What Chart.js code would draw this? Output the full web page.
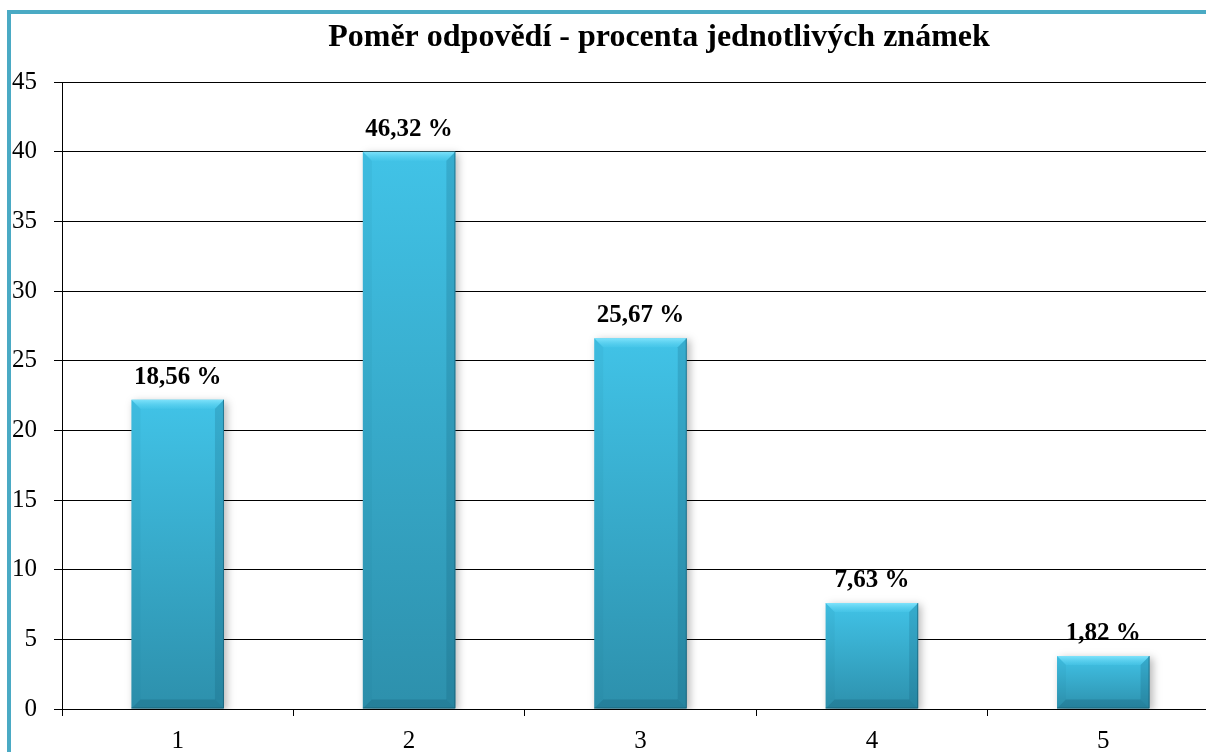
<!DOCTYPE html>
<html lang="cs">
<head>
<meta charset="utf-8">
<title>Poměr odpovědí - procenta jednotlivých známek</title>
<script src="https://cdn.jsdelivr.net/npm/chart.js@4.4.1/dist/chart.umd.min.js"></script>
<style>
  html, body { margin: 0; padding: 0; background: #ffffff; overflow: hidden; width: 1206px; height: 752px; }
  #frame { position: absolute; left: 7px; top: 10px; width: 1260px; height: 800px; border: 4px solid #4aaac4; box-sizing: border-box; }
  #wrap { position: absolute; left: 0; top: 0; width: 1230px; height: 752px; }
</style>
</head>
<body>
<div id="frame"></div>
<div id="wrap"><canvas id="chart" width="1230" height="752"></canvas></div>
<script>
// Grades and the bar heights shown for each one
const categories = ['1', '2', '3', '4', '5'];
const barValues = [22.2, 40.0, 26.6, 7.6, 3.8];
// Percentage captions printed above the bars
const percentLabels = ['18,56 %', '46,32 %', '25,67 %', '7,63 %', '1,82 %'];
const chartTitle = 'Poměr odpovědí - procenta jednotlivých známek';
const yMin = 0, yMax = 45, yStep = 5;

const SERIF = "'Liberation Serif', 'Times New Roman', serif";

// Vertical cyan gradient for each bar, from its top down to the baseline
function barFill(ctx) {
  const chart = ctx.chart;
  const y = chart.scales.y;
  if (!y || ctx.raw == null) return '#3ab4d8';
  const top = y.getPixelForValue(ctx.raw);
  const base = y.getPixelForValue(0);
  if (!isFinite(top) || !isFinite(base) || top === base) return '#3ab4d8';
  const g = chart.ctx.createLinearGradient(0, top, 0, base);
  g.addColorStop(0, '#41c3e7');
  g.addColorStop(1, '#2d90ac');
  return g;
}

// Soft drop shadow behind the bars plus bevelled edges on top of them
const bevelBars = {
  id: 'bevelBars',
  beforeDatasetDraw(chart) {
    const c = chart.ctx;
    c.save();
    c.shadowColor = 'rgba(0,0,0,0.28)';
    c.shadowBlur = 8;
    c.shadowOffsetX = 3;
    c.shadowOffsetY = 2;
  },
  afterDatasetDraw(chart) {
    const c = chart.ctx;
    c.restore();
    const meta = chart.getDatasetMeta(0);
    meta.data.forEach(el => {
      if (!isFinite(el.y) || !isFinite(el.base)) return;
      const x0 = el.x - el.width / 2, x1 = el.x + el.width / 2;
      const y0 = el.y, y1 = el.base;
      const b = Math.min(9, (y1 - y0) / 2);
      const poly = (pts, fill) => {
        c.beginPath();
        c.moveTo(pts[0][0], pts[0][1]);
        for (let i = 1; i < pts.length; i++) c.lineTo(pts[i][0], pts[i][1]);
        c.closePath();
        c.fillStyle = fill;
        c.fill();
      };
      c.save();
      // top bevel – highlight
      const gt = c.createLinearGradient(0, y0, 0, y0 + b);
      gt.addColorStop(0, 'rgba(130,228,252,0.95)');
      gt.addColorStop(1, 'rgba(80,205,238,0.35)');
      poly([[x0, y0], [x1, y0], [x1 - b, y0 + b], [x0 + b, y0 + b]], gt);
      // left bevel
      poly([[x0, y0], [x0 + b, y0 + b], [x0 + b, y1 - b], [x0, y1]], 'rgba(20,110,140,0.08)');
      // right bevel
      poly([[x1, y0], [x1, y1], [x1 - b, y1 - b], [x1 - b, y0 + b]], 'rgba(15,85,110,0.20)');
      // bottom bevel
      poly([[x0, y1], [x1, y1], [x1 - b, y1 - b], [x0 + b, y1 - b]], 'rgba(10,70,92,0.22)');
      // thin dark outline along the right and bottom edges
      c.strokeStyle = 'rgba(20,80,100,0.55)';
      c.lineWidth = 1;
      c.beginPath();
      c.moveTo(x1 - 0.5, y0);
      c.lineTo(x1 - 0.5, y1 - 0.5);
      c.lineTo(x0, y1 - 0.5);
      c.stroke();
      c.restore();
    });
  }
};

// Percentage captions above the bars and the chart heading
const captions = {
  id: 'captions',
  afterDatasetsDraw(chart) {
    const c = chart.ctx;
    const meta = chart.getDatasetMeta(0);
    c.save();
    c.fillStyle = '#000';
    c.textAlign = 'center';
    c.textBaseline = 'alphabetic';
    c.font = 'bold 25px ' + SERIF;
    meta.data.forEach((el, i) => {
      c.fillText(percentLabels[i], el.x, el.y - 16);
    });
    c.font = 'bold 32px ' + SERIF;
    c.fillText(chartTitle, 659, 46);
    c.restore();
  }
};

new Chart(document.getElementById('chart'), {
  type: 'bar',
  data: {
    labels: categories,
    datasets: [{
      data: barValues,
      backgroundColor: barFill,
      borderWidth: 0,
      barPercentage: 0.4,
      categoryPercentage: 1.0
    }]
  },
  plugins: [bevelBars, captions],
  options: {
    responsive: false,
    animation: false,
    devicePixelRatio: 1,
    layout: { padding: { top: 82, left: 0, right: 11, bottom: 0 } },
    plugins: {
      legend: { display: false },
      tooltip: { enabled: false },
      title: { display: false }
    },
    scales: {
      x: {
        offset: true,
        afterFit(s) { s.height = 43; },
        grid: { offset: true, drawOnChartArea: false, drawTicks: true, tickLength: 7, color: '#000', lineWidth: 1 },
        border: { display: true, color: '#000', width: 1 },
        ticks: { color: '#000', padding: 10, maxRotation: 0, font: { family: SERIF, size: 25 } }
      },
      y: {
        min: yMin,
        max: yMax,
        afterFit(s) { s.width = 62; },
        ticks: { stepSize: yStep, color: '#000', padding: 17, font: { family: SERIF, size: 25 } },
        grid: { color: '#000', lineWidth: 1, tickLength: 8, drawTicks: true },
        border: { display: true, color: '#000', width: 1 }
      }
    }
  }
});
</script>
</body>
</html>
